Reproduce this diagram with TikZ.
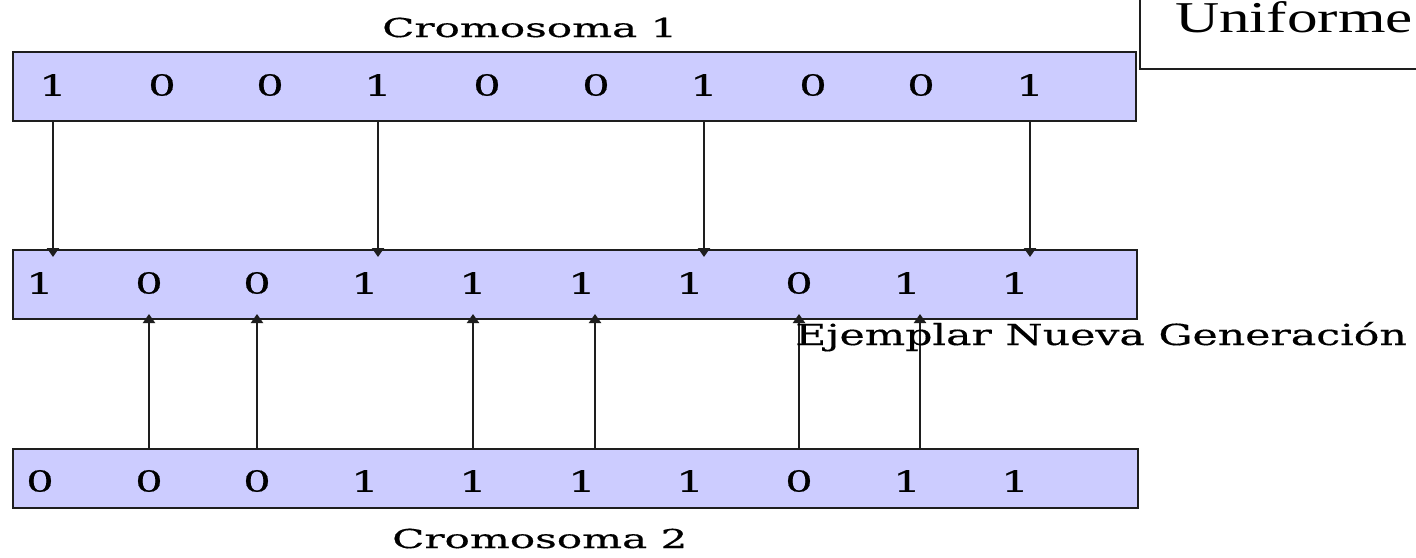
\documentclass[tikz,border=0pt]{standalone}
\usepackage{fontspec}
\setmainfont{DejaVu Serif}[FakeBold=0.4]
\newfontfamily\timesf{Liberation Serif}
\usetikzlibrary{arrows.meta}
\definecolor{lav}{RGB}{204,204,255}
\definecolor{edge}{RGB}{30,30,30}
\newcommand\wide[2]{\scalebox{#1}[1]{#2}}
\begin{document}
\begin{tikzpicture}[x=1pt,y=-1pt,
  chrom/.style={draw=edge, line width=2pt, fill=lav, inner sep=0pt, anchor=north west},
  digit/.style={inner sep=0pt, font=\fontsize{29}{29}\selectfont},
  lbl/.style={inner sep=0pt, anchor=base west},
  conn/.style={draw=edge, line width=2pt, -{Triangle[length=9pt,width=12pt]}}]
\useasboundingbox (0,0) rectangle (1416,557);
\clip (0,0) rectangle (1416,557);
\fill[white] (0,0) rectangle (1416,557);
% boxes
\node[chrom, minimum width=1123pt, minimum height=69pt] (top) at (12,51) {};
\node[chrom, minimum width=1124pt, minimum height=69pt] (mid) at (12,249) {};
\node[chrom, minimum width=1125pt, minimum height=59pt] (bot) at (12,448) {};
% digits
\foreach \x/\d [count=\i] in {53/1,162/0,270/0,378/1,487/0,596/0,704/1,813/0,921/0,1030/1}
  \node[digit] (a\i) at (\x,85) {\wide{1.5}{\d}};
\foreach \x/\d [count=\i] in {40/1,149/0,257/0,365/1,473/1,582/1,690/1,799/0,907/1,1015/1}
  \node[digit] (b\i) at (\x,283) {\wide{1.5}{\d}};
\foreach \x/\d [count=\i] in {40/0,149/0,257/0,365/1,473/1,582/1,690/1,799/0,907/1,1015/1}
  \node[digit] (c\i) at (\x,481) {\wide{1.5}{\d}};
% arrows down
\foreach \i in {1,4,7,10}
  \draw[conn, shorten >=-8pt] (top.south -| a\i) -- (mid.north -| a\i);
% arrows up
\coordinate (u6) at (595,0);
\coordinate (u9) at (920,0);
\foreach \n in {c2,c3,c5,u6,c8,u9}
  \draw[conn, shorten >=-6pt] (bot.north -| \n) -- (mid.south -| \n);
% labels
\node[lbl, font=\fontsize{26}{26}\selectfont] (l1) at (382,37) {\wide{1.62}{Cromosoma 1}};
\node[lbl, font=\fontsize{26}{26}\selectfont] (l2) at (392,548) {\wide{1.62}{Cromosoma 2}};
\node[lbl, font=\fontsize{29}{29}\selectfont] (l3) at (795,345) {\wide{1.47}{Ejemplar Nueva Generación}};
% Uniforme box
\node[draw=edge, line width=2pt, fill=white, inner sep=0pt, anchor=south west,
  minimum width=300pt, minimum height=90pt] (ubox) at (1139,70) {};
\node[lbl, font=\timesf\fontsize{44}{44}\selectfont] (ut) at (1175,32) {\wide{1.39}{Uniforme}};
\end{tikzpicture}
\end{document}
